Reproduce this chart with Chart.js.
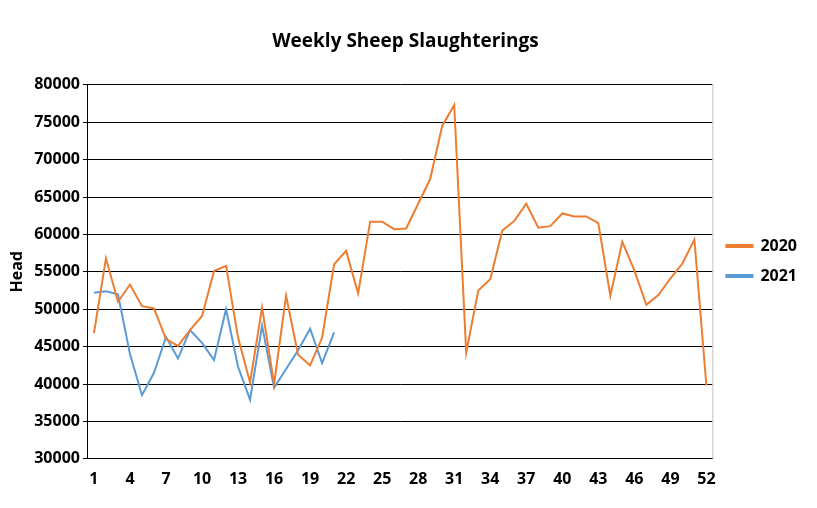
<!DOCTYPE html><html><head><script src="https://cdn.jsdelivr.net/npm/chart.js"></script>
<style>body{margin:0;background:#fff}#w{width:817px;height:508px}</style></head><body><div id="w"><canvas id="c"></canvas></div>
<script>
const weeks=Array.from({length:52},(_,i)=>String(i+1));
const s2020=[46800,56800,51000,53300,50400,50100,46000,45100,47200,49100,55100,55800,46200,40200,50200,40000,51800,43900,42500,46200,56000,57800,52100,61700,61700,60700,60800,64100,67400,74500,77300,44200,52500,54000,60500,61800,64100,60900,61100,62800,62400,62400,61500,51800,59000,55200,50600,51900,54100,56100,59300,39800];
const s2021=[52200,52400,52000,44000,38500,41500,46300,43400,47200,45500,43200,50000,42300,37900,47800,39500,42000,44500,47400,42800,46900];
const frame={id:'frame',afterDraw(c){const a=c.chartArea,x=c.ctx;x.save();x.strokeStyle='#bfbfbf';x.lineWidth=1;x.beginPath();x.moveTo(a.right+0.5,a.top);x.lineTo(a.right+0.5,a.bottom);x.stroke();x.restore();}};
new Chart(document.getElementById('c'),{type:'line',data:{labels:weeks,datasets:[
{label:'2020',data:s2020,borderColor:'#ed7d31',backgroundColor:'#ed7d31',borderWidth:2,pointRadius:0,tension:0},
{label:'2021',data:s2021,borderColor:'#5b9bd5',backgroundColor:'#5b9bd5',borderWidth:2,pointRadius:0,tension:0}]},
options:{responsive:true,maintainAspectRatio:false,animation:false,
layout:{padding:{left:4,right:10,top:30,bottom:16}},
plugins:{title:{display:true,text:'Weekly Sheep Slaughterings',font:{family:'Open Sans',size:19,weight:'bold'},color:'#000',padding:{bottom:32}},
legend:{position:'right',labels:{boxWidth:26,boxHeight:2,font:{family:'Open Sans',size:16,weight:'bold'},color:'#000',padding:14}},tooltip:{enabled:false}},
scales:{x:{offset:true,grid:{display:false,drawTicks:true,offset:true},border:{color:'#000'},ticks:{autoSkip:false,maxRotation:0,color:'#000',font:{family:'Open Sans',size:16,weight:'bold'},callback:(v,i)=>i%3===0?weeks[i]:''}},
y:{min:30000,max:80000,ticks:{stepSize:5000,color:'#000',font:{family:'Open Sans',size:16,weight:'bold'},callback:v=>String(v)},grid:{color:'#000',drawTicks:true,tickLength:5},border:{color:'#000'},
title:{display:true,text:'Head',color:'#000',font:{family:'Open Sans',size:16,weight:'bold'}}}}},plugins:[frame]});
</script></body></html>
